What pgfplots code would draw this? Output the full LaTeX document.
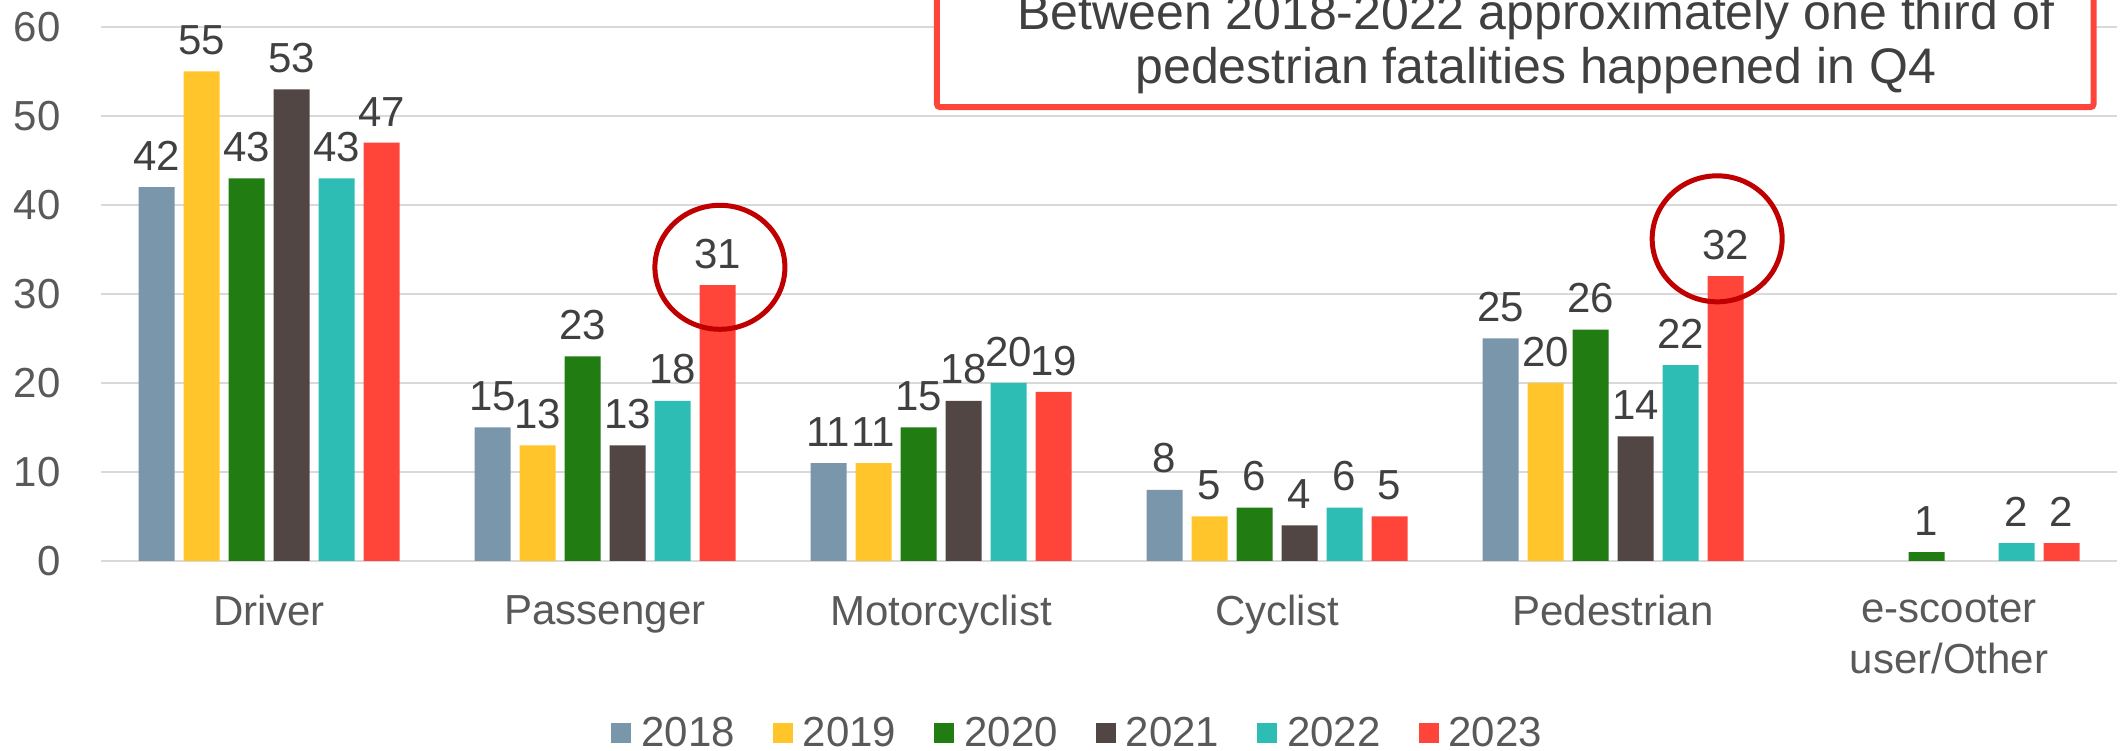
\documentclass[border=0pt]{standalone}
\usepackage{fontspec}
\setmainfont{Liberation Sans}
\usepackage{pgfplots}
\pgfplotsset{compat=1.18}
\usetikzlibrary{calc}

\definecolor{c18}{HTML}{7A96AB}
\definecolor{c19}{HTML}{FFC52A}
\definecolor{c20}{HTML}{217C12}
\definecolor{c21}{HTML}{524645}
\definecolor{c22}{HTML}{2EBDB5}
\definecolor{c23}{HTML}{FF4539}
\definecolor{circred}{HTML}{C00000}
\definecolor{gridgray}{HTML}{D9D9D9}
\definecolor{labgray}{HTML}{595959}
\definecolor{numgray}{HTML}{404040}

\begin{document}
\begin{tikzpicture}
\begin{axis}[
    scale only axis, width=1008pt, height=267pt,
    ybar, bar width=18pt,
    xmin=-0.5, xmax=5.5, ymin=0, ymax=60,
    xtick={0,...,5},
    xticklabels={Driver,Passenger,Motorcyclist,Cyclist,Pedestrian,{e-scooter\\user/Other}},
    ytick={0,10,...,60},
    axis line style={draw=none}, major tick length=0pt,
    ymajorgrids, grid style={draw=gridgray, line width=1pt},
    tick label style={font=\fontsize{21}{25.5}\selectfont, text=labgray},
    xticklabel style={align=center, anchor=north, inner sep=0pt, yshift=-17pt},
    yticklabel style={anchor=east, inner sep=0pt, xshift=-20pt},
    /pgf/number format/assume math mode=true,
    nodes near coords,
    nodes near coords style={font=\fontsize{21}{25}\selectfont, text=numgray,
        anchor=south, inner sep=0pt, yshift=8pt},
    legend columns=6,
    legend style={draw=none, fill=none, at={(0.485,-0.322)}, anchor=center,
        font=\fontsize{21}{25}\selectfont, text=labgray,
        /tikz/every odd column/.append style={column sep=3pt},
        /tikz/every even column/.append style={column sep=17pt}},
    every axis plot/.append style={draw=none,
        legend image code/.code={\fill[##1] (0pt,-5pt) rectangle (10pt,5pt);}},
    clip=false,
]
% 2018
\addplot[fill=c18, bar shift=-56.25pt] coordinates {(0,42) (1,15) (2,11) (3,8) (4,25)};
% 2019
\addplot[fill=c19, bar shift=-33.75pt] coordinates {(0,55) (1,13) (2,11) (3,5) (4,20)};
% 2020
\addplot[fill=c20, bar shift=-11.25pt] coordinates {(0,43) (1,23) (2,15) (3,6) (4,26) (5,1)};
% 2021
\addplot[fill=c21, bar shift=11.25pt] coordinates {(0,53) (1,13) (2,18) (3,4) (4,14)};
% 2022
\addplot[fill=c22, bar shift=33.75pt] coordinates {(0,43) (1,18) (2,20) (3,6) (4,22) (5,2)};
% 2023
\addplot[fill=c23, bar shift=56.25pt] coordinates {(0,47) (1,31) (2,19) (3,5) (4,32) (5,2)};
\legend{2018,2019,2020,2021,2022,2023}

% highlight circles
\draw[circred, line width=2.5pt] (axis cs:1.342,33.0) ellipse [x radius=32.5pt, y radius=31pt];
\draw[circred, line width=2.5pt] (axis cs:4.31,36.2) ellipse [x radius=32.5pt, y radius=31.5pt];

% callout box (top is cut off)
\draw[fill=white, draw=c23, line width=3pt, rounded corners=1.5pt]
    (axis cs:1.988,51) rectangle (axis cs:5.43,75);
\node[align=center, font=\fontsize{25}{27}\selectfont, text=numgray]
    at (axis cs:3.77,58.1) {Between 2018-2022 approximately one third of\\pedestrian fatalities happened in Q4};

\coordinate (bl) at (rel axis cs:0,0);
\coordinate (tr) at (rel axis cs:1,1);
\end{axis}
\pgfresetboundingbox
\path ($(bl)+(-50.5pt,-95pt)$) rectangle ($(tr)+(2pt,13.5pt)$);
\end{tikzpicture}
\end{document}
